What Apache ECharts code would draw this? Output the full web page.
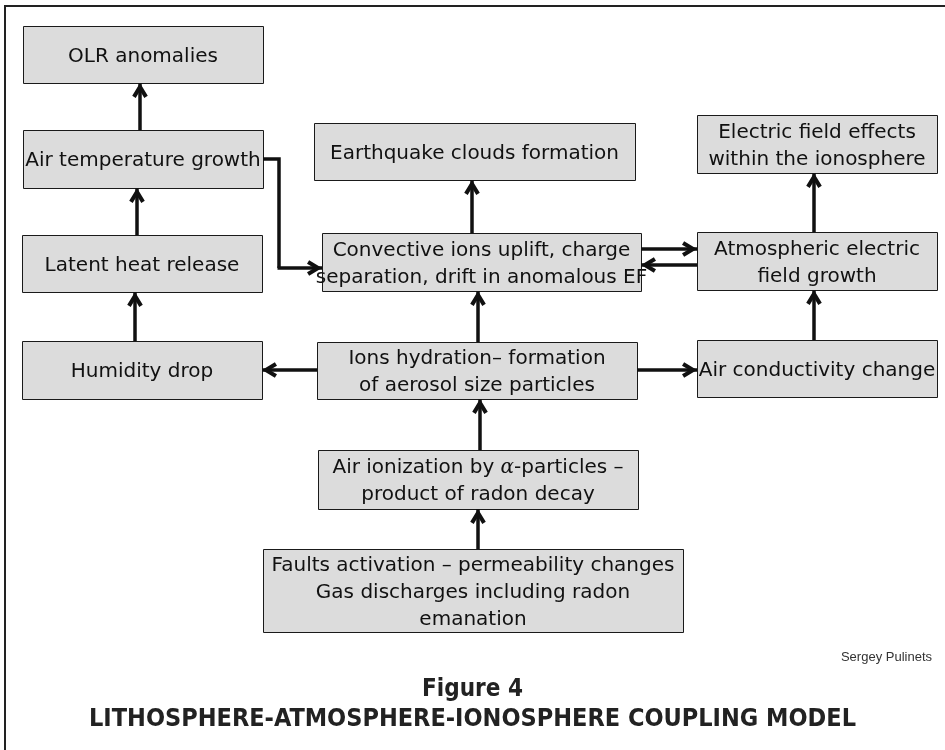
<!DOCTYPE html>
<html>
<head>
<meta charset="utf-8">
<script src="https://cdn.jsdelivr.net/npm/echarts@6/dist/echarts.min.js"></script>
<style>
  html, body { margin: 0; padding: 0; background: #fff; }
  #main { width: 945px; height: 750px; }
</style>
</head>
<body>
<div id="main"></div>
<script>
// box texts
const boxLabels = [
  'OLR anomalies',
  'Air temperature growth',
  'Latent heat release',
  'Humidity drop',
  'Earthquake clouds formation',
  'Convective ions uplift, charge\nseparation, drift in anomalous EF',
  'Electric field effects\nwithin the ionosphere',
  'Atmospheric electric\nfield growth',
  'Air conductivity change',
  'Ions hydration\u2013 formation\nof aerosol size particles',
  'Air ionization by {a|\u03b1}-particles \u2013\nproduct of radon decay',
  'Faults activation \u2013 permeability changes\nGas discharges including radon\nemanation'
];

// links: [from, to]
const links = [
  [1, 0], [2, 1], [3, 2],
  [5, 4], [9, 5], [10, 9], [11, 10],
  [7, 6], [8, 7],
  [9, 3], [9, 8],
  [5, 7], [7, 5]
];

// layout (pixel units of the 945x750 canvas): left, top, right, bottom
const boxLayout = [
  [23, 26, 263, 83],
  [23, 130, 263, 188],
  [22, 235, 262, 292],
  [22, 341, 262, 399],
  [314, 123, 635, 180],
  [322, 233, 641, 291],
  [697, 115, 937, 173],
  [697, 232, 937, 290],
  [697, 340, 937, 397],
  [317, 342, 637, 399],
  [318, 450, 638, 509],
  [263, 549, 683, 632]
];
// where each link crosses: x for vertical links, y for horizontal ones
const linkAt = [140, 137, 135, 472, 478, 480, 478, 814, 814, 370, 370, 249, 265];

function linkCoords(k) {
  const a = boxLayout[links[k][0]], b = boxLayout[links[k][1]];
  const at = linkAt[k];
  if (b[3] <= a[1]) return [[at, a[1]], [at, b[3]]];      // up
  if (b[2] <= a[0]) return [[a[0], at], [b[2], at]];      // left
  return [[a[2], at], [b[0], at]];                        // right
}

const arrowData = links.map((l, k) => ({ coords: linkCoords(k) }));
// elbow link from "Air temperature growth" to "Convective ions uplift"
const src = boxLayout[1], dst = boxLayout[5];
const elbowX = 279, elbowY0 = 159, elbowY1 = 268;
const elbowPlain = [{ coords: [[src[2], elbowY0], [elbowX, elbowY0], [elbowX, elbowY1]] }];
arrowData.push({ coords: [[elbowX - 1.5, elbowY1], [dst[0], elbowY1]] });

const titleFont = "'DejaVu Sans Condensed', 'Liberation Sans Narrow', 'Roboto', sans-serif";
// open V-shaped arrow head; tiny dummy sub-paths make a square box with the tip at its centre
const chevron = 'path://M0,0 L0.01,0 L0,0.01 Z M22.4,0 L22.39,0 L22.4,0.01 Z ' +
  'M11.2,11.2 L17.0,20.8 L14.4,22.4 L11.2,16.9 L8.0,22.4 L5.4,20.8 Z';

const chart = echarts.init(document.getElementById('main'));
chart.setOption({
  animation: false,
  backgroundColor: '#fff',
  grid: { left: 0, right: 0, top: 0, bottom: 0 },
  xAxis: { type: 'value', min: 0, max: 945, show: false },
  yAxis: { type: 'value', min: 0, max: 750, inverse: true, show: false },
  title: [
    {
      text: 'Sergey Pulinets', right: 8, top: 646,
      textStyle: { fontFamily: 'Liberation Sans', fontSize: 13, fontWeight: 'normal', color: '#333' }
    },
    {
      text: 'Figure 4', left: 'center', top: 673,
      textStyle: { fontFamily: titleFont, fontSize: 24, fontWeight: 'bold', color: '#222' }
    },
    {
      text: 'LITHOSPHERE-ATMOSPHERE-IONOSPHERE COUPLING MODEL', left: 'center', top: 702,
      textStyle: { fontFamily: titleFont, fontSize: 25, fontWeight: 'bold', color: '#222' }
    }
  ],
  series: [
    {
      // frame
      type: 'lines', coordinateSystem: 'cartesian2d', polyline: true, silent: true,
      lineStyle: { color: '#222', width: 2, opacity: 1 },
      data: [{ coords: [[5, 750], [5, 6], [945, 6]] }]
    },
    {
      type: 'custom', coordinateSystem: 'cartesian2d', silent: true,
      data: boxLabels.map((t, i) => [i]),
      renderItem: function (params, api) {
        const i = api.value(0);
        const b = boxLayout[i];
        const p0 = api.coord([b[0], b[1]]), p1 = api.coord([b[2], b[3]]);
        return {
          type: 'group',
          children: [
            {
              type: 'rect',
              shape: { x: p0[0] + 0.5, y: p0[1] + 0.5, width: p1[0] - p0[0], height: p1[1] - p0[1] },
              style: { fill: '#dcdcdc', stroke: '#1a1a1a', lineWidth: 1 }
            },
            {
              type: 'text',
              x: (p0[0] + p1[0]) / 2, y: (p0[1] + p1[1]) / 2 + 2,
              style: {
                text: boxLabels[i],
                fontFamily: 'DejaVu Sans', fontSize: 20, lineHeight: 27,
                fill: '#111', align: 'center', verticalAlign: 'middle',
                rich: {
                  a: { fontFamily: 'DejaVu Serif', fontStyle: 'italic', fontSize: 20, lineHeight: 27, fill: '#111' }
                }
              }
            }
          ]
        };
      }
    },
    {
      type: 'lines', coordinateSystem: 'cartesian2d', polyline: true, silent: true,
      lineStyle: { color: '#111', width: 3.5, opacity: 1 },
      data: elbowPlain
    },
    {
      type: 'lines', coordinateSystem: 'cartesian2d', silent: true,
      symbol: ['none', chevron], symbolSize: 30,
      lineStyle: { color: '#111', width: 3.5, opacity: 1 },
      data: arrowData
    }
  ]
});
</script>
</body>
</html>
